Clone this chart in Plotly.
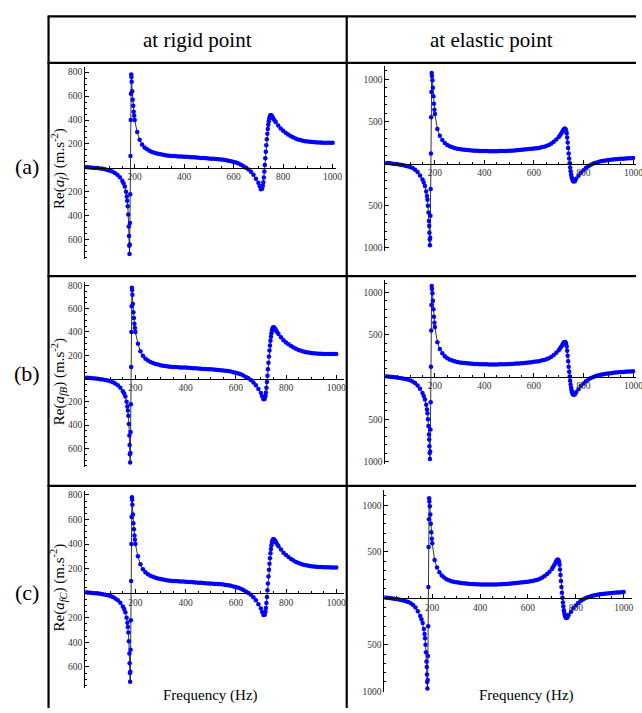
import plotly.graph_objects as go

W, H = 642, 713
FONT = "Liberation Serif, Times New Roman, serif"

# ---------------- data ----------------
freq = [0, 10, 20, 30, 40, 50, 60, 70, 80, 90, 100, 110, 120, 130, 140, 150,
        155, 160, 165, 168, 170, 172, 174, 176, 177, 178, 179, 180, 181, 182, 183, 184,
        185, 186, 187, 188, 190, 192, 194, 196, 198,
        200, 210, 220, 230, 240, 250, 260, 270, 280, 290, 300, 310, 320, 330, 340, 350,
        360, 370, 380, 390, 400, 410, 420, 430, 440, 450, 460, 470, 480, 490, 500, 510,
        520, 530, 540, 550, 560, 570, 580, 590, 600, 610, 620, 630, 640, 650, 660, 670,
        680, 690, 700,
        705, 710, 715, 718, 720, 722, 724, 726, 728, 730, 732, 734, 736, 738, 740, 742,
        744, 746, 748, 750, 752, 754, 756, 758, 760, 765,
        770, 780, 790, 800, 810, 820, 830, 840, 850, 860, 870, 880, 890, 900, 910, 920,
        930, 940, 950, 960, 970, 980, 990, 1000]

# Re(a) at the rigid point (left column)
rigid_accel = [8, 6, 4, 2, 0, -2, -5, -8, -12, -17, -23, -31, -42, -57, -78, -108,
               -128, -155, -200, -240, -275, -320, -390, -490, -570, -650, -720, -640, -460, -220, 100, 400,
               620, 780, 760, 720, 640, 570, 520, 470, 435,
               400, 300, 235, 195, 170, 155, 143, 133, 126, 120, 115, 111, 107, 104, 102, 100,
               99, 97, 96, 95, 94, 92, 91, 89, 88, 86, 85, 83, 82, 80, 79, 77,
               76, 74, 72, 70, 67, 64, 60, 55, 50, 44, 36, 27, 14, 2, -13, -33,
               -58, -90, -125,
               -152, -178, -175, -150, -120, -80, -30, 25, 80, 135, 190, 240, 285, 325, 360, 390,
               412, 428, 437, 440, 438, 433, 427, 420, 413, 398,
               383, 355, 330, 310, 294, 279, 266, 255, 246, 238, 232, 227, 223, 220, 218, 216,
               214, 213, 212, 211, 211, 210, 210, 210]

# Re(a) at the elastic point (right column)
elastic_accel = [8, 6, 3, -1, -5, -9, -13, -18, -24, -31, -40, -53, -72, -100, -140, -190,
                 -225, -267, -330, -385, -430, -500, -580, -680, -740, -820, -900, -970, -880, -620, -300, 120,
                 550, 850, 1075, 1040, 990, 900, 800, 710, 640,
                 590, 410, 330, 280, 245, 222, 205, 193, 184, 177, 172, 168, 165, 162, 159, 156,
                 154, 152, 151, 150, 149, 149, 148, 148, 148, 148, 149, 149, 150, 151, 152, 154,
                 156, 158, 160, 163, 166, 169, 172, 175, 178, 182, 186, 193, 200, 210, 222, 238,
                 260, 285, 315,
                 335, 358, 380, 395, 403, 410, 413, 413, 405, 390, 360, 310, 250, 185, 120, 60,
                 5, -45, -90, -128, -158, -180, -196, -206, -211, -208,
                 -180, -145, -108, -78, -50, -30, -13, 0, 10, 19, 27, 33, 38, 42, 45, 48,
                 51, 54, 57, 59, 61, 63, 65, 67]

assert len(freq) == len(rigid_accel) == len(elastic_accel)

col_titles = ["at rigid point", "at elastic point"]
row_labels = ["(a)", "(b)", "(c)"]
y_titles = ["Re(<i>a<sub>f</sub></i>) (m.s<sup>-2</sup>)",
            "Re(<i>a<sub>fB</sub></i>) (m.s<sup>-2</sup>)",
            "Re(<i>a<sub>fC</sub></i>) (m.s<sup>-2</sup>)"]
x_title = "Frequency (Hz)"

x_tickvals = [200, 400, 600, 800, 1000]
x_ticktext = ["200", "400", "600", "800", "1000"]
left_tickvals = [-600, -400, -200, 200, 400, 600, 800]
left_ticktext = ["600", "400", "200", "200", "400", "600", "800"]
right_tickvals = [-1000, -500, 500, 1000]
right_ticktext = ["1000", "500", "500", "1000"]

# ---------------- layout geometry (pixels) ----------------
# (x0, x1, xmax, ytop, ybot, ymin, ymax)
panels = [
    (86, 339.5, 1015, 66.7, 260, -760, 842),     # a left
    (389, 642, 1012, 66, 251.7, -1032, 1153),    # a right
    (86, 347, 1030, 283.3, 470, -760, 830),      # b left
    (389, 642, 1012, 281, 467, -1030, 1150),     # b right
    (86, 347, 1030, 494, 693.3, -775, 833),      # c left
    (388, 638, 1035, 493.3, 696.7, -1006, 1162), # c right
]

fig = go.Figure()
layout = dict(
    width=W, height=H,
    margin=dict(l=0, r=0, t=0, b=0),
    paper_bgcolor="white", plot_bgcolor="white",
    showlegend=False,
    font=dict(family=FONT, color="black"),
)

tickfont = dict(family=FONT, size=9.5, color="#333333")
zero_positions = []

for i, (x0, x1, xmax, yt, yb, ymin, ymax) in enumerate(panels):
    n = i + 1
    sfx = "" if n == 1 else str(n)
    is_left = (i % 2 == 0)
    yvals = rigid_accel if is_left else elastic_accel
    fig.add_trace(go.Scatter(
        x=freq, y=yvals, mode="lines+markers",
        line=dict(color="black", width=0.8),
        marker=dict(color="#0000ff", size=4.5),
        xaxis="x" + sfx, yaxis="y" + sfx, hoverinfo="skip"))

    ydom = [1 - yb / H, 1 - yt / H]
    zero_px = yt + (ymax - 0) / (ymax - ymin) * (yb - yt)
    zero_positions.append(zero_px)
    layout["xaxis" + sfx] = dict(
        domain=[x0 / W, x1 / W], range=[0, xmax],
        anchor="free", position=1 - zero_px / H,
        showline=True, linecolor="black", linewidth=1,
        ticks="inside", ticklen=4, tickwidth=1, tickcolor="black",
        tickmode="array", tickvals=x_tickvals, ticktext=x_ticktext,
        minor=dict(ticks="inside", ticklen=2, tickcolor="black",
                   tickmode="linear", tick0=0, dtick=50),
        showgrid=False, zeroline=False, tickfont=tickfont,
    )
    layout["yaxis" + sfx] = dict(
        domain=ydom, range=[ymin, ymax],
        anchor="x" + sfx,
        showline=True, linecolor="black", linewidth=1,
        ticks="inside", ticklen=4, tickwidth=1, tickcolor="black",
        tickmode="array",
        tickvals=left_tickvals if is_left else right_tickvals,
        ticktext=left_ticktext if is_left else right_ticktext,
        minor=dict(ticks="inside", ticklen=2, tickcolor="black",
                   tickmode="linear", tick0=0, dtick=50 if is_left else 100),
        showgrid=False, zeroline=False, tickfont=tickfont,
    )

fig.update_layout(**layout)

# the "1000" labels of the two upper right panels run off the page edge
for idx in (1, 3):
    fig.add_annotation(text="1000", xref="x" + str(idx + 1), yref="paper",
                       x=1000, y=1 - (zero_positions[idx] + 9.5) / H,
                       showarrow=False, xanchor="center", yanchor="middle",
                       font=tickfont)

# ---------------- table lines ----------------
def px_line(xa, ya, xb, yb, w=2.2):
    fig.add_shape(type="line", xref="paper", yref="paper",
                  x0=xa / W, x1=xb / W, y0=1 - ya / H, y1=1 - yb / H,
                  line=dict(color="black", width=w), layer="above")

px_line(48, 15.5, 642, 15.5)
px_line(48, 62.5, 642, 62.5)
px_line(48, 277.5, 642, 277.5)
px_line(48, 489, 642, 489)
px_line(49, 15.5, 49, 713)
px_line(350, 15.5, 350, 713)

# ---------------- text ----------------
def px_text(text, x, y, size, angle=0):
    fig.add_annotation(text=text, xref="paper", yref="paper",
                       x=x / W, y=1 - y / H, showarrow=False,
                       xanchor="center", yanchor="middle", textangle=angle,
                       font=dict(family=FONT, size=size, color="black"))

px_text(col_titles[0], 199, 39, 21)
px_text(col_titles[1], 496, 39, 21)
for lab, yc in zip(row_labels, [167, 376, 597]):
    px_text(lab, 27, yc, 22)
for t, yc in zip(y_titles, [169, 384, 591]):
    px_text(t, 59, yc, 15, angle=-90)
px_text(x_title, 212, 700, 15)
px_text(x_title, 531, 700, 15)

fig.write_html("out.html",
               config={"displayModeBar": False},
               post_script="document.body.style.margin='0';document.body.style.padding='0';")
